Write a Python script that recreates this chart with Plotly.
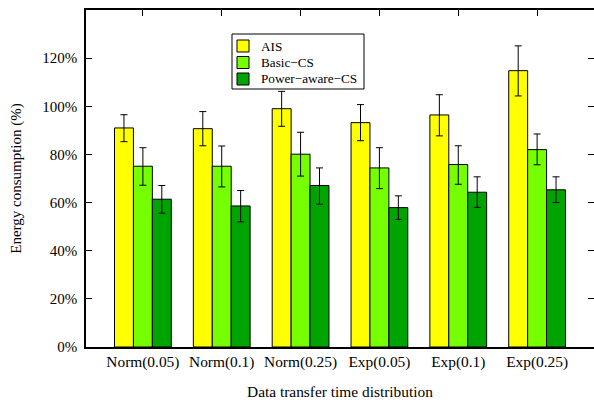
import plotly.graph_objects as go

categories = ["Norm(0.05)", "Norm(0.1)", "Norm(0.25)", "Exp(0.05)", "Exp(0.1)", "Exp(0.25)"]
series_names = ["AIS", "Basic\u2212CS", "Power\u2212aware\u2212CS"]
ais = [91.0, 90.7, 99.0, 93.2, 96.4, 114.8]
ais_hi = [96.5, 97.8, 106.2, 100.7, 104.8, 125.1]
ais_lo = [85.3, 83.6, 91.7, 85.7, 87.7, 104.3]
basic = [75.1, 75.1, 80.1, 74.4, 75.8, 82.0]
basic_hi = [82.8, 83.5, 89.2, 82.8, 83.6, 88.5]
basic_lo = [67.2, 66.5, 71.0, 65.8, 67.6, 75.7]
power = [61.4, 58.6, 67.1, 57.9, 64.3, 65.3]
power_hi = [67.1, 65.0, 74.4, 62.8, 70.7, 70.7]
power_lo = [55.6, 52.0, 59.3, 53.0, 58.0, 60.0]
colors = ["#ffff00", "#76ff00", "#00a400"]
y_ticks = [0, 20, 40, 60, 80, 100, 120]
y_ticklabels = ["0%", "20%", "40%", "60%", "80%", "100%", "120%"]

FONT = "Liberation Serif"
xs = list(range(len(categories)))

W, H = 594, 405
ML, MR, MT, MB = 86, 0, 10, 58
PW, PH = W - ML - MR, H - MT - MB


def px(x):
    return (x - ML) / PW


def py(y):
    return (H - MB - y) / PH


fig = go.Figure()
for name, vals, hi, lo, col in zip(series_names, [ais, basic, power],
                                   [ais_hi, basic_hi, power_hi],
                                   [ais_lo, basic_lo, power_lo], colors):
    fig.add_trace(go.Bar(
        x=xs, y=vals, name=name, showlegend=False,
        marker=dict(color=col, line=dict(color="black", width=1)),
        error_y=dict(type="data", symmetric=False,
                     array=[h - v for h, v in zip(hi, vals)],
                     arrayminus=[v - l for l, v in zip(lo, vals)],
                     color="black", thickness=1, width=3.5),
    ))

# invisible trace for right-side ticks and top ticks
fig.add_trace(go.Scatter(x=[xs[0]], y=[0], xaxis="x2", yaxis="y2",
                         mode="markers", marker=dict(opacity=0),
                         showlegend=False, hoverinfo="skip"))

# manual legend (box, swatches, labels)
shapes = [dict(type="rect", xref="paper", yref="paper",
               x0=px(232), x1=px(364), y0=py(89), y1=py(34),
               fillcolor="white", line=dict(color="black", width=1),
               layer="above")]
annotations = []
for i, (name, col) in enumerate(zip(series_names, colors)):
    top = 40 + i * 16.5
    shapes.append(dict(type="rect", xref="paper", yref="paper",
                       x0=px(237), x1=px(249), y0=py(top + 12), y1=py(top),
                       fillcolor=col, line=dict(color="black", width=1),
                       layer="above"))
    annotations.append(dict(xref="paper", yref="paper", x=px(259),
                            y=py(top + 6), text=name, showarrow=False,
                            xanchor="left", yanchor="middle",
                            font=dict(family=FONT, size=13.2, color="black")))

fig.update_layout(
    width=W, height=H,
    margin=dict(l=ML, r=MR, t=MT, b=MB),
    paper_bgcolor="white", plot_bgcolor="white",
    font=dict(family=FONT, size=15, color="black"),
    barmode="group", bargap=0.28, bargroupgap=0,
    showlegend=False,
    shapes=shapes, annotations=annotations,
    xaxis=dict(range=[-0.7215, 5.7215], tickmode="array", tickvals=xs,
               ticktext=categories, ticks="", showline=True,
               linecolor="black", linewidth=1.5, showgrid=False,
               zeroline=False, ticklabelstandoff=0,
               tickfont=dict(family=FONT, size=15.4),
               title=dict(text="Data transfer time distribution",
                          font=dict(family=FONT, size=15.4), standoff=16)),
    xaxis2=dict(range=[-0.7215, 5.7215], overlaying="x", side="top",
                tickmode="array", tickvals=xs, ticktext=["" for _ in xs],
                ticks="inside", ticklen=6, tickcolor="black", tickwidth=1,
                showline=True, linecolor="black", linewidth=1.5,
                showgrid=False, zeroline=False),
    yaxis=dict(range=[0, 140], tickmode="array", tickvals=y_ticks,
               ticktext=y_ticklabels, ticks="inside", ticklen=6,
               tickcolor="black", tickwidth=1, showline=True,
               linecolor="black", linewidth=1.5, showgrid=False,
               zeroline=False, ticklabelstandoff=4,
               title=dict(text="Energy consumption (%)",
                          font=dict(family=FONT, size=15), standoff=17)),
    yaxis2=dict(range=[0, 140], overlaying="y", side="right",
                tickmode="array", tickvals=y_ticks,
                ticktext=["" for _ in y_ticks], ticks="inside", ticklen=6,
                tickcolor="black", tickwidth=1, showline=False,
                showgrid=False, zeroline=False),
)

fig.write_html("out.html")
